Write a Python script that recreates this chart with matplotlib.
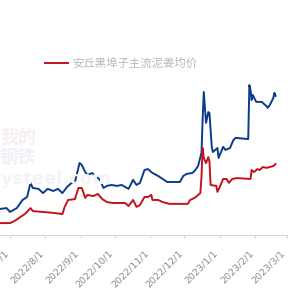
import numpy as np
import pandas as pd
import matplotlib
matplotlib.use("Agg")
import matplotlib.pyplot as plt
from matplotlib.lines import Line2D

plt.rcParams['font.family'] = ['Noto Sans CJK SC', 'DejaVu Sans']

#%% data

blue_dates = ["2022-06-22", "2022-06-28", "2022-07-01", "2022-07-07", "2022-07-12", "2022-07-16",
              "2022-07-19", "2022-07-21", "2022-07-26", "2022-07-30", "2022-08-03", "2022-08-08",
              "2022-08-12", "2022-08-16", "2022-08-20", "2022-08-24", "2022-08-27", "2022-08-31",
              "2022-09-02", "2022-09-05", "2022-09-07", "2022-09-11", "2022-09-15", "2022-09-18",
              "2022-09-21", "2022-09-24", "2022-09-28", "2022-10-03", "2022-10-07", "2022-10-13",
              "2022-10-17", "2022-10-20", "2022-10-23", "2022-10-27", "2022-10-30", "2022-11-03",
              "2022-11-08", "2022-11-12", "2022-11-16", "2022-11-21", "2022-11-27", "2022-11-30",
              "2022-12-03", "2022-12-08", "2022-12-10", "2022-12-13", "2022-12-16", "2022-12-17",
              "2022-12-18", "2022-12-20", "2022-12-22", "2022-12-23", "2022-12-25", "2022-12-26",
              "2022-12-30", "2022-12-31", "2023-01-04", "2023-01-06", "2023-01-10", "2023-01-13",
              "2023-01-15", "2023-01-26", "2023-01-27", "2023-01-28", "2023-01-29", "2023-01-30",
              "2023-02-02", "2023-02-07", "2023-02-08", "2023-02-11", "2023-02-12", "2023-02-14",
              "2023-02-17", "2023-02-18", "2023-02-19"]
blue_values = [1.70, 1.73, 1.60, 1.73, 2.00, 2.10, 2.57, 2.40, 2.37, 2.23, 2.37, 2.30,
               2.37, 2.23, 2.43, 2.57, 2.60, 3.23, 3.17, 2.93, 2.83, 2.90, 2.77, 2.67,
               2.40, 2.47, 2.50, 2.47, 2.50, 2.37, 2.67, 2.50, 2.57, 3.00, 3.03, 2.90,
               2.80, 2.70, 2.60, 2.60, 2.60, 2.80, 2.87, 2.90, 2.97, 3.13, 3.57, 4.67,
               5.60, 4.57, 4.93, 4.90, 3.77, 3.60, 3.73, 3.40, 3.77, 3.67, 3.73, 4.00,
               4.07, 4.03, 5.83, 5.67, 5.33, 5.50, 5.27, 5.27, 5.23, 5.13, 5.07, 5.17,
               5.40, 5.57, 5.47]

red_dates = ["2022-06-22", "2022-07-01", "2022-07-05", "2022-07-10", "2022-07-14", "2022-07-19",
             "2022-07-21", "2022-07-30", "2022-08-08", "2022-08-16", "2022-08-18", "2022-08-21",
             "2022-08-27", "2022-08-30", "2022-09-02", "2022-09-05", "2022-09-07", "2022-09-12",
             "2022-09-16", "2022-09-20", "2022-09-24", "2022-09-29", "2022-10-10", "2022-10-13",
             "2022-10-17", "2022-10-20", "2022-10-23", "2022-10-27", "2022-10-30", "2022-11-02",
             "2022-11-03", "2022-11-08", "2022-11-12", "2022-11-18", "2022-12-04", "2022-12-06",
             "2022-12-10", "2022-12-15", "2022-12-16", "2022-12-17", "2022-12-18", "2022-12-20",
             "2022-12-22", "2022-12-23", "2022-12-24", "2022-12-29", "2022-12-30", "2023-01-01",
             "2023-01-04", "2023-01-07", "2023-01-09", "2023-01-12", "2023-01-16", "2023-01-28",
             "2023-01-29", "2023-01-31", "2023-02-03", "2023-02-05", "2023-02-08", "2023-02-11",
             "2023-02-14", "2023-02-17", "2023-02-19"]
red_values = [1.23, 1.23, 1.30, 1.43, 1.53, 1.73, 1.63, 1.60, 1.57, 1.53, 1.77, 2.00,
              2.03, 2.40, 2.40, 2.07, 2.17, 2.13, 2.20, 2.03, 1.93, 1.90, 1.90, 1.80,
              2.00, 1.77, 1.83, 2.10, 2.10, 2.17, 2.00, 2.00, 1.93, 1.87, 1.87, 2.00,
              2.07, 2.23, 2.77, 3.73, 3.40, 3.23, 3.43, 3.27, 2.50, 2.47, 2.27, 2.43,
              2.70, 2.70, 2.57, 2.70, 2.73, 2.70, 3.00, 2.93, 3.03, 3.00, 3.10, 3.07,
              3.10, 3.13, 3.20]

red_label = "安丘黑埠子主流泥姜均价"
tick_dates = ["2022-07-01", "2022-08-01", "2022-09-01", "2022-10-01", "2022-11-01",
              "2022-12-01", "2023-01-01", "2023-02-01", "2023-03-01"]
tick_labels = ["2022/7/1", "2022/8/1", "2022/9/1", "2022/10/1", "2022/11/1",
               "2022/12/1", "2023/1/1", "2023/2/1", "2023/3/1"]

#%% plot

fig = plt.figure(figsize=(3, 3), dpi=100)
fig.patch.set_facecolor("white")

# faint watermark
fig.text(0.0, 0.525, "我的", fontsize=13, color="#f8eeee", fontweight="bold", zorder=0)
fig.text(0.0, 0.455, "钢铁", fontsize=13, color="#eff1f6", fontweight="bold", zorder=0)
fig.text(-0.06, 0.385, "mysteel.com", fontsize=13, color="#f4f4f4", fontweight="bold",
         family="DejaVu Sans", zorder=0)

ax = fig.add_axes([-0.0807, 0.2167, 1.0373, 0.65])
ax.patch.set_alpha(0)

ax.plot(pd.to_datetime(blue_dates), blue_values, color="#0d3b8c", linewidth=1.4)
ax.plot(pd.to_datetime(red_dates), red_values, color="#c3121c", linewidth=1.4)

ax.set_xlim(pd.Timestamp("2022-06-01"), pd.Timestamp("2023-03-01"))
ax.set_ylim(0.833, 7.333)

for s in ["top", "right", "left"]:
    ax.spines[s].set_visible(False)
ax.spines["bottom"].set_color("#d9d9d9")
ax.spines["bottom"].set_linewidth(0.8)
ax.set_yticks([])

ax.set_xticks(pd.to_datetime(tick_dates))
ax.set_xticklabels(tick_labels, rotation=45, ha="right", fontsize=6.8,
                   color="#8c8c8c", family="DejaVu Sans")
ax.tick_params(axis="x", direction="out", length=2.5, width=0.8, color="#d9d9d9", pad=7)

handle = Line2D([], [], color="#c3121c", linewidth=1.4)
ax.legend([handle], [red_label], loc="center left", bbox_to_anchor=(0.15, 0.79),
          bbox_transform=fig.transFigure, frameon=False, fontsize=8.2,
          labelcolor="#b8b8b8", handlelength=2.0, handletextpad=0.4,
          borderpad=0, borderaxespad=0)

fig.savefig("out.png", dpi=100)
